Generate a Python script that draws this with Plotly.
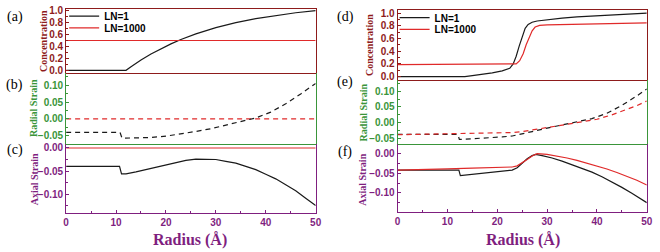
import plotly.graph_objects as go

# ---------------- data ----------------
# Left column (a)-(c)
a_x_ln1 = [0, 12, 13, 14, 15, 17, 19, 21, 23, 26, 30, 34, 38, 42, 46, 50]
a_y_ln1 = [0, 0, 0.06, 0.118, 0.173, 0.273, 0.363, 0.444, 0.517, 0.611, 0.716, 0.80, 0.867, 0.921, 0.965, 1.0]
a_x_ln1000 = [0, 50]
a_y_ln1000 = [0.5, 0.5]

b_x_ln1 = [0, 10.8, 11.2, 14, 17, 20, 23, 26, 29, 32, 35, 38, 41, 44, 47, 50]
b_y_ln1 = [-0.040, -0.040, -0.057, -0.057, -0.055, -0.051, -0.045, -0.037, -0.029, -0.019, -0.009, 0.003,
           0.020, 0.045, 0.074, 0.105]
b_x_ln1000 = [0, 50]
b_y_ln1000 = [0.0, 0.0]

c_x_ln1 = [0, 10.7, 11.1, 12, 14, 16, 18, 20, 22, 24, 26, 28, 30, 32, 34, 36, 38, 40, 42, 44, 46, 48, 50]
c_y_ln1 = [-0.040, -0.040, -0.056, -0.056, -0.052, -0.047, -0.041, -0.036, -0.031, -0.027, -0.024, -0.024,
           -0.025, -0.029, -0.033, -0.040, -0.047, -0.057, -0.067, -0.080, -0.093, -0.109, -0.125]
c_x_ln1000 = [0, 50]
c_y_ln1000 = [0.0, 0.0]

# Right column (d)-(f)
d_x_ln1 = [0, 13.5, 15, 17, 19, 21, 22.5, 23.2, 23.8, 24.4, 25, 25.6, 26.2, 27, 28, 30, 33, 36, 40, 45, 50]
d_y_ln1 = [0, 0, 0.015, 0.035, 0.06, 0.09, 0.13, 0.2, 0.32, 0.48, 0.64, 0.76, 0.82, 0.855, 0.875, 0.895,
           0.92, 0.94, 0.96, 0.98, 1.0]
d_x_ln1000 = [0, 23, 23.8, 24.5, 25.2, 25.8, 26.4, 27, 27.6, 28.5, 30, 35, 40, 45, 50]
d_y_ln1000 = [0.19, 0.19, 0.2, 0.25, 0.36, 0.5, 0.62, 0.72, 0.78, 0.805, 0.815, 0.825, 0.832, 0.838, 0.845]

e_x_ln1 = [0, 12.1, 12.4, 15, 18, 21, 23, 25, 27, 30, 33, 36, 39, 42, 45, 48, 50]
e_y_ln1 = [-0.037, -0.037, -0.053, -0.051, -0.048, -0.045, -0.042, -0.036, -0.028, -0.017, -0.007, 0.002,
           0.013, 0.030, 0.055, 0.085, 0.107]
e_x_ln1000 = [0, 5, 10, 15, 20, 23, 25, 28, 31, 34, 37, 40, 43, 46, 48, 50]
e_y_ln1000 = [-0.038, -0.037, -0.036, -0.035, -0.033, -0.031, -0.028, -0.021, -0.013, -0.005, 0.003, 0.011,
              0.025, 0.041, 0.054, 0.069]

f_x_ln1 = [0, 12.3, 12.6, 15, 18, 21, 23, 24, 25, 26, 27, 27.7, 29, 31, 33, 35, 37, 39, 41, 43, 45, 47, 49, 50]
f_y_ln1 = [-0.042, -0.042, -0.056, -0.053, -0.050, -0.046, -0.042, -0.036, -0.025, -0.013, -0.005, -0.002,
           -0.005, -0.011, -0.019, -0.028, -0.037, -0.047, -0.059, -0.072, -0.086, -0.101, -0.117, -0.125]
f_x_ln1000 = [0, 5, 10, 15, 20, 23, 24, 25, 26, 27, 28, 30, 32, 34, 36, 38, 40, 42, 44, 46, 48, 50]
f_y_ln1000 = [-0.042, -0.041, -0.039, -0.037, -0.035, -0.034, -0.031, -0.024, -0.015, -0.006, 0.000, -0.002,
              -0.006, -0.011, -0.017, -0.024, -0.031, -0.039, -0.048, -0.057, -0.068, -0.080]

series_names = ["LN=1", "LN=1000"]
panel_labels = ["(a)", "(b)", "(c)", "(d)", "(e)", "(f)"]
y_titles = ["Concentration", "Radial Strain", "Axial Strain"]
x_title = "Radius (Å)"
x_range = [0, 50]
y_ranges = {
    1: [-0.05, 1.03], 2: [-0.073, 0.135], 3: [-0.1415, 0.0095],
    4: [-0.06, 1.05], 5: [-0.067, 0.134], 6: [-0.148, 0.025],
}

# ---------------- styling ----------------
W, H = 660, 252
C_CONC = "#8E1B1B"
C_RAD = "#3A953A"
C_AX = "#7F1F7F"
BLACK = "#1a1a1a"
RED = "#E02A2A"
DASH = "5px,4px"
TICKFONT = "Liberation Sans"
SERIF = "Liberation Serif"

def px_x(p):
    return p / W

def px_y(p):
    return 1 - p / H

left_dom = [px_x(64), px_x(317)]
right_dom = [px_x(400), px_x(652.7)]
y_doms = {
    1: [px_y(71), px_y(5)], 2: [px_y(143), px_y(71)], 3: [px_y(214.3), px_y(143)],
    4: [px_y(78.3), px_y(6)], 5: [px_y(143.3), px_y(78.3)], 6: [px_y(212.7), px_y(143.3)],
}
colors = {1: C_CONC, 2: C_RAD, 3: C_AX, 4: C_CONC, 5: C_RAD, 6: C_AX}
y_dtick = {1: 0.2, 2: 0.05, 3: 0.05, 4: 0.2, 5: 0.05, 6: 0.05}
y_fmt = {1: ".1f", 2: ".2f", 3: ".2f", 4: ".1f", 5: ".2f", 6: ".2f"}

fig = go.Figure()

def add(k, x, y, color, dash, name, legend=None):
    fig.add_trace(go.Scatter(
        x=x, y=y, mode="lines", name=name,
        line=dict(color=color, width=1.2, dash=dash),
        xaxis="x" if k == 1 else f"x{k}", yaxis="y" if k == 1 else f"y{k}",
        showlegend=legend is not None, legend=legend if legend else "legend",
        hoverinfo="skip",
    ))

add(1, a_x_ln1, a_y_ln1, BLACK, "solid", series_names[0], "legend")
add(1, a_x_ln1000, a_y_ln1000, RED, "solid", series_names[1], "legend2")
add(2, b_x_ln1000, b_y_ln1000, RED, DASH, series_names[1])
add(2, b_x_ln1, b_y_ln1, BLACK, DASH, series_names[0])
add(3, c_x_ln1000, c_y_ln1000, RED, "solid", series_names[1])
add(3, c_x_ln1, c_y_ln1, BLACK, "solid", series_names[0])
add(4, d_x_ln1, d_y_ln1, BLACK, "solid", series_names[0], "legend3")
add(4, d_x_ln1000, d_y_ln1000, RED, "solid", series_names[1], "legend4")
add(5, e_x_ln1, e_y_ln1, BLACK, DASH, series_names[0])
add(5, e_x_ln1000, e_y_ln1000, RED, DASH, series_names[1])
add(6, f_x_ln1, f_y_ln1, BLACK, "solid", series_names[0])
add(6, f_x_ln1000, f_y_ln1000, RED, "solid", series_names[1])

layout = dict(
    width=W, height=H, margin=dict(l=0, r=0, t=0, b=0),
    paper_bgcolor="white", plot_bgcolor="white",
)

for k in range(1, 7):
    xs = "xaxis" if k == 1 else f"xaxis{k}"
    ys = "yaxis" if k == 1 else f"yaxis{k}"
    col = colors[k]
    bottom = k in (3, 6)
    top = k in (1, 4)
    layout[xs] = dict(
        domain=left_dom if k <= 3 else right_dom,
        anchor="y" if k == 1 else f"y{k}",
        range=x_range, showgrid=False, zeroline=False,
        showline=True, mirror=top, linecolor=col, linewidth=1,
        ticks="inside" if bottom else "", ticklen=3, tickcolor=col,
        dtick=10, showticklabels=bottom,
        tickfont=dict(family=TICKFONT, size=10, color=col, weight="bold"),
        minor=dict(ticks="inside" if bottom else "", dtick=5, ticklen=2, tickcolor=col),
    )
    layout[ys] = dict(
        domain=y_doms[k], anchor="x" if k == 1 else f"x{k}",
        range=y_ranges[k], showgrid=False, zeroline=False,
        showline=True, mirror=True, linecolor=col, linewidth=1,
        ticks="inside", ticklen=3, tickcolor=col, dtick=y_dtick[k], tick0=0,
        tickformat=y_fmt[k],
        tickfont=dict(family=TICKFONT, size=10, color=col, weight="bold"),
        minor=dict(ticks="inside", dtick=y_dtick[k] / 2, ticklen=2, tickcolor=col),
    )

# one legend per entry so the rows can sit as close as in the reference
leg_font = dict(family=TICKFONT, size=10, color="black", weight="bold")
for name, (lx, ly) in zip(["legend", "legend2", "legend3", "legend4"],
                          [(62, 12.5), (62, 24.5), (397, 14), (397, 26)]):
    layout[name] = dict(
        x=px_x(lx), y=px_y(ly), xanchor="left", yanchor="middle",
        bgcolor="rgba(0,0,0,0)", font=leg_font, itemwidth=30, borderwidth=0,
    )

ann = []
label_pos = [(12, 13), (12, 83), (12, 150), (347, 13), (347, 80), (347, 152)]
for lab, (lx, ly) in zip(panel_labels, label_pos):
    ann.append(dict(text=lab, x=px_x(lx), y=px_y(ly), xref="paper", yref="paper",
                    xanchor="center", yanchor="middle", showarrow=False,
                    font=dict(family=SERIF, size=14, color="black")))

title_pos = [
    (40.5, 38, C_CONC, 0), (31, 107, C_RAD, 1), (32, 180, C_AX, 2),
    (372, 42, C_CONC, 0), (365, 111, C_RAD, 1), (365, 180, C_AX, 2),
]
for tx, ty, col, i in title_pos:
    ann.append(dict(text=y_titles[i], x=px_x(tx), y=px_y(ty), xref="paper", yref="paper",
                    xanchor="center", yanchor="middle", textangle=-90, showarrow=False,
                    font=dict(family=SERIF, size=10, color=col, weight="bold")))

for cx in (190, 527):
    ann.append(dict(text=x_title, x=px_x(cx), y=px_y(242), xref="paper", yref="paper",
                    xanchor="center", yanchor="middle", showarrow=False,
                    font=dict(family=SERIF, size=16, color=C_AX, weight="bold")))

layout["annotations"] = ann
fig.update_layout(**layout)
fig.write_html("out.html", config={"displayModeBar": False},
               post_script="document.body.style.margin='0';")
